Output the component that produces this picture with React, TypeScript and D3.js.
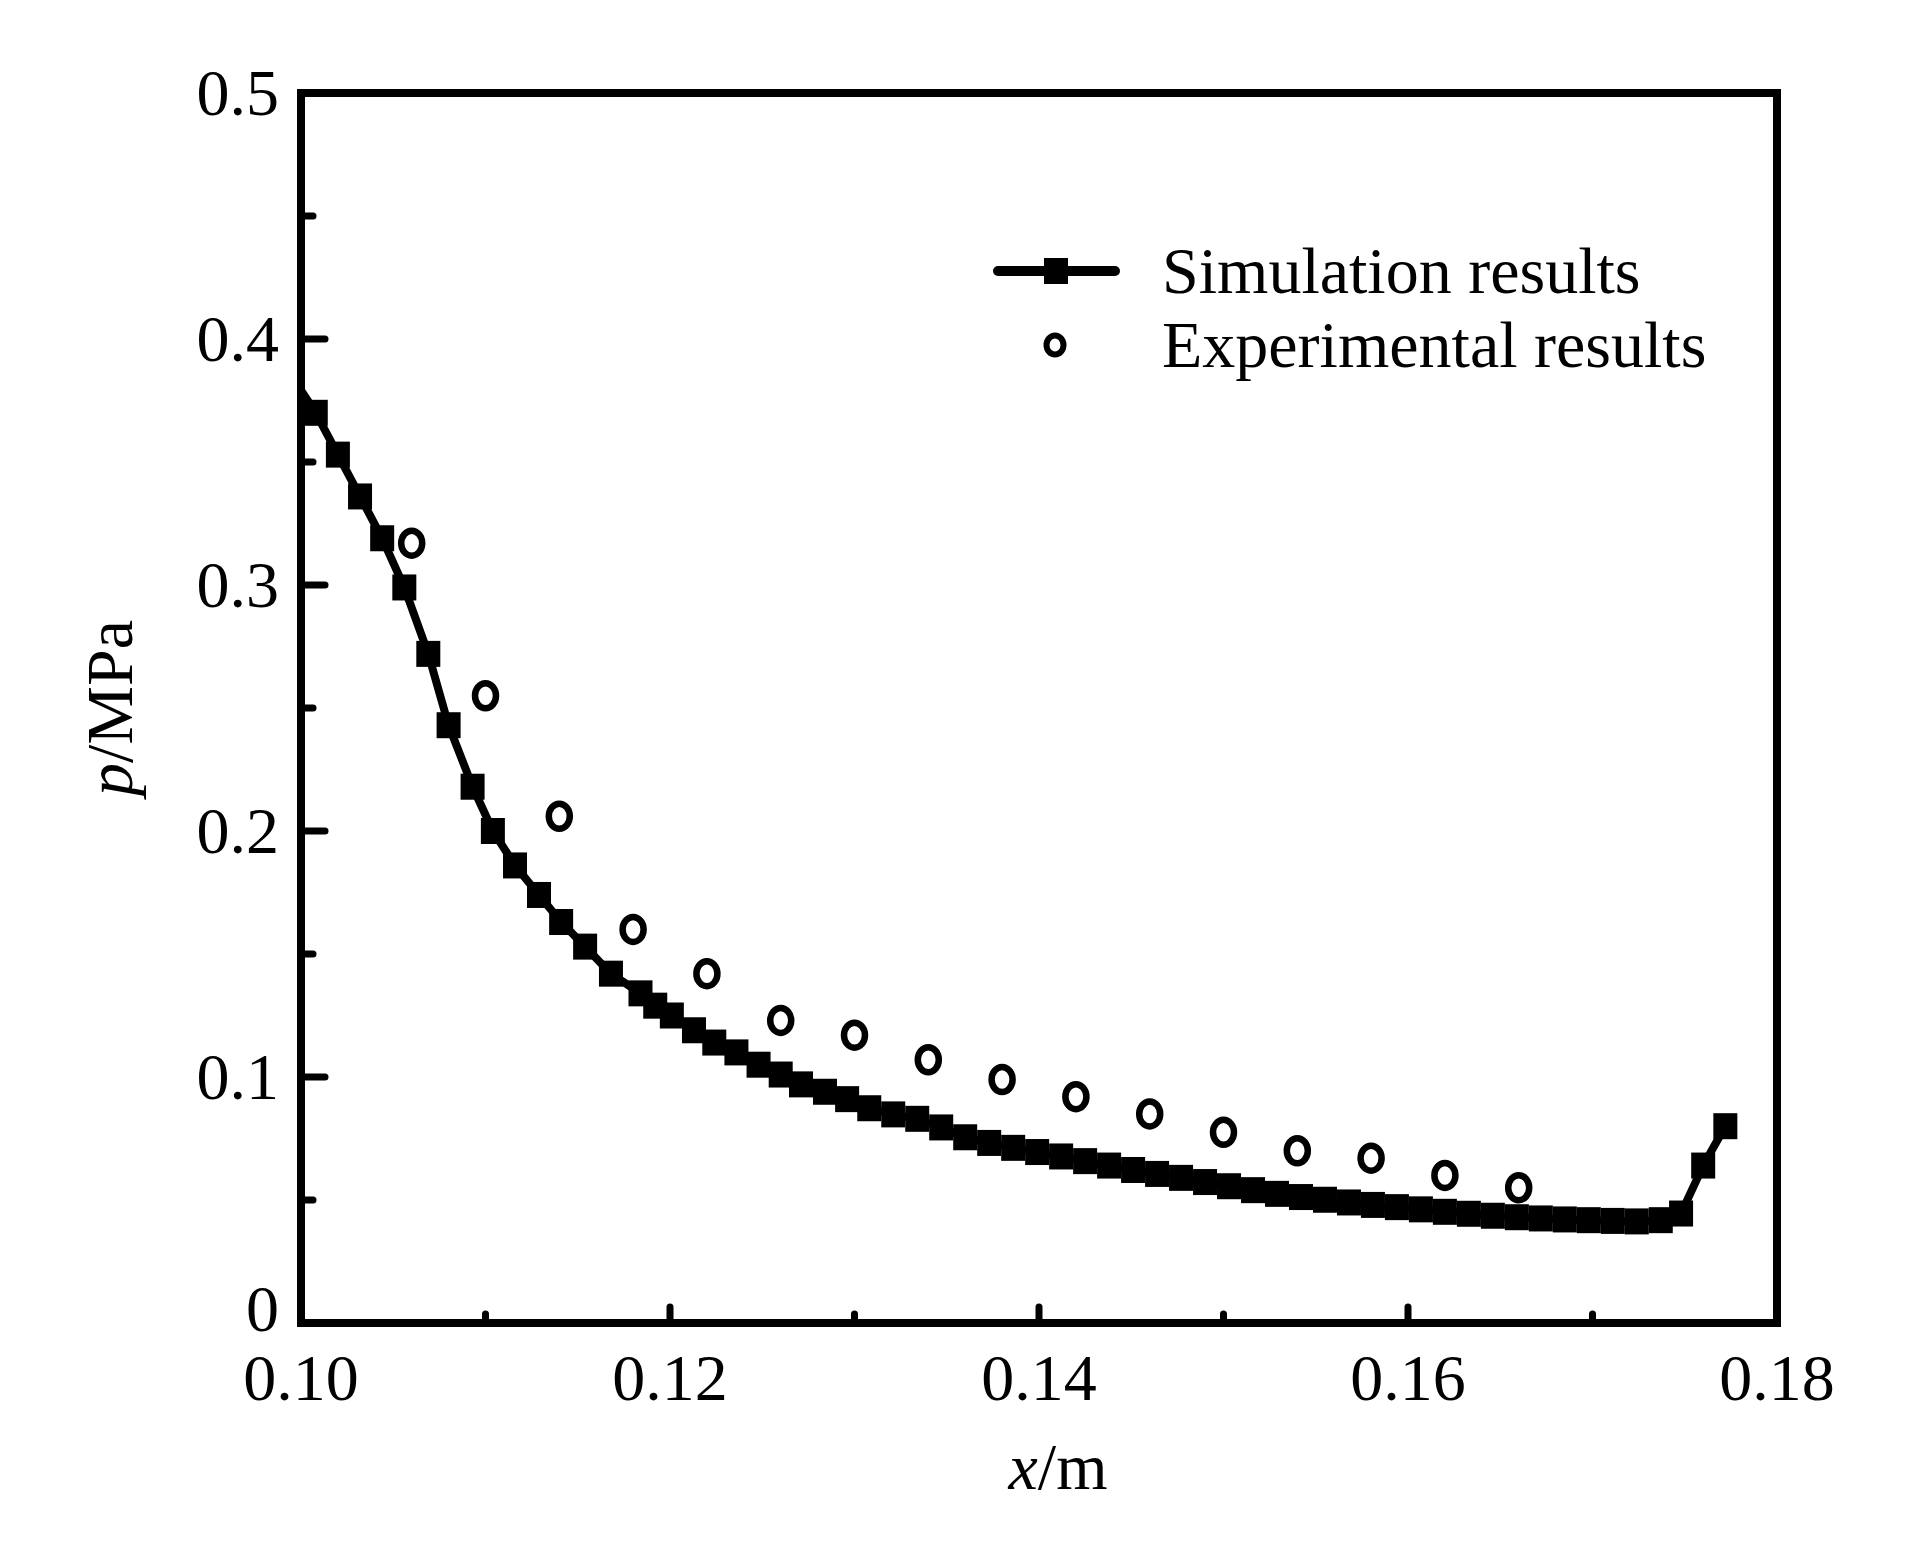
import * as d3 from "d3";
import { useRef, useEffect } from "react";

// simulation results (x in m, p in MPa)
const simX = [
  0.0994, 0.1008, 0.102, 0.1032, 0.1044, 0.1056, 0.1069, 0.108, 0.1093, 0.1104,
  0.1116, 0.1129, 0.1141, 0.1154, 0.1168, 0.1184, 0.1192, 0.1201, 0.1213, 0.1224,
  0.1236, 0.1248, 0.126, 0.1271, 0.1284, 0.1296, 0.1308, 0.1321, 0.1334, 0.1347,
  0.136, 0.1373, 0.1386, 0.1399, 0.1412, 0.1425, 0.1438, 0.1451, 0.1464, 0.1477,
  0.149, 0.1503, 0.1516, 0.1529, 0.1542, 0.1555, 0.1568, 0.1581, 0.1594, 0.1607,
  0.162, 0.1633, 0.1646, 0.1659, 0.1672, 0.1685, 0.1698, 0.1711, 0.1724, 0.1737,
  0.1748, 0.176, 0.1772,
];
const simP = [
  0.386, 0.37, 0.353, 0.336, 0.319, 0.299, 0.272, 0.243, 0.218, 0.2,
  0.186, 0.174, 0.163, 0.153, 0.142, 0.134, 0.129, 0.125, 0.119, 0.114,
  0.11, 0.105, 0.101, 0.097, 0.094, 0.091, 0.0873, 0.0848, 0.083, 0.0795,
  0.0755, 0.0732, 0.0712, 0.0695, 0.0677, 0.0658, 0.064, 0.0622, 0.0606, 0.059,
  0.0573, 0.0556, 0.054, 0.0525, 0.0512, 0.0501, 0.049, 0.048, 0.0471, 0.0462,
  0.0452, 0.0444, 0.0436, 0.043, 0.0425, 0.0421, 0.0418, 0.0415, 0.0413, 0.0418,
  0.0445, 0.064, 0.08,
];

// experimental results
const expX = [
  0.106, 0.11, 0.114, 0.118, 0.122, 0.126, 0.13, 0.134, 0.138, 0.142, 0.146,
  0.15, 0.154, 0.158, 0.162, 0.166,
];
const expP = [
  0.317, 0.255, 0.206, 0.16, 0.142, 0.123, 0.117, 0.107, 0.099, 0.092, 0.085,
  0.0775, 0.07, 0.067, 0.06, 0.055,
];

const xTicks = [0.1, 0.12, 0.14, 0.16, 0.18];
const xMinor = [0.11, 0.13, 0.15, 0.17];
const yTicks = [0, 0.1, 0.2, 0.3, 0.4, 0.5];
const yMinor = [0.05, 0.15, 0.25, 0.35, 0.45];
const seriesNames = ["Simulation results", "Experimental results"];

const W = 1923;
const H = 1559;
const FONT = "'Liberation Serif', 'Times New Roman', serif";

function draw(svgEl: SVGSVGElement | null) {
  if (!svgEl) return;
  const svg = d3.select(svgEl);
  svg.selectAll("*").remove();

  const left = 301;
  const right = 1777;
  const top = 93;
  const bottom = 1323;

  const x = d3.scaleLinear().domain([0.1, 0.18]).range([left, right]);
  const y = d3.scaleLinear().domain([0, 0.5]).range([bottom, top]);

  svg
    .append("defs")
    .append("clipPath")
    .attr("id", "plot-clip")
    .append("rect")
    .attr("x", left)
    .attr("y", top)
    .attr("width", right - left)
    .attr("height", bottom - top);

  // ticks (inside)
  const ticks = svg
    .append("g")
    .attr("stroke", "#000")
    .attr("stroke-width", 7)
    .attr("stroke-linecap", "round");

  ticks
    .selectAll("line.ym")
    .data(yTicks.slice(1, -1))
    .join("line")
    .attr("x1", left)
    .attr("x2", left + 24)
    .attr("y1", (d) => y(d))
    .attr("y2", (d) => y(d));
  ticks
    .selectAll("line.yn")
    .data(yMinor)
    .join("line")
    .attr("x1", left)
    .attr("x2", left + 12)
    .attr("y1", (d) => y(d))
    .attr("y2", (d) => y(d));
  ticks
    .selectAll("line.xm")
    .data(xTicks.slice(1, -1))
    .join("line")
    .attr("x1", (d) => x(d))
    .attr("x2", (d) => x(d))
    .attr("y1", bottom)
    .attr("y2", bottom - 16);
  ticks
    .selectAll("line.xn")
    .data(xMinor)
    .join("line")
    .attr("x1", (d) => x(d))
    .attr("x2", (d) => x(d))
    .attr("y1", bottom)
    .attr("y2", bottom - 9);

  // tick labels
  svg
    .append("g")
    .attr("font-family", FONT)
    .attr("font-size", 66)
    .attr("text-anchor", "middle")
    .selectAll("text")
    .data(xTicks)
    .join("text")
    .attr("x", (d) => x(d))
    .attr("y", 1400)
    .text((d) => d.toFixed(2));

  svg
    .append("g")
    .attr("font-family", FONT)
    .attr("font-size", 66)
    .attr("text-anchor", "end")
    .selectAll("text")
    .data(yTicks)
    .join("text")
    .attr("x", 279)
    .attr("y", (d) => y(d) - (d === 0 ? 14 : 0))
    .attr("dy", "0.33em")
    .text((d) => (d === 0 ? "0" : d.toFixed(1)));

  // axis titles
  const xt = svg
    .append("text")
    .attr("font-family", FONT)
    .attr("font-size", 66)
    .attr("text-anchor", "middle")
    .attr("x", 1058)
    .attr("y", 1489);
  xt.append("tspan").attr("font-style", "italic").text("x");
  xt.append("tspan").text("/m");

  const yt = svg
    .append("text")
    .attr("font-family", FONT)
    .attr("font-size", 66)
    .attr("text-anchor", "middle")
    .attr("transform", `translate(132,${(top + bottom) / 2}) rotate(-90)`);
  yt.append("tspan").attr("font-style", "italic").text("p");
  yt.append("tspan").text("/MPa");

  // data
  const plot = svg.append("g").attr("clip-path", "url(#plot-clip)");
  const sim = simX.map((v, i) => [v, simP[i]] as [number, number]);
  const exp = expX.map((v, i) => [v, expP[i]] as [number, number]);

  const line = d3
    .line<[number, number]>()
    .x((d) => x(d[0]))
    .y((d) => y(d[1]));

  plot
    .append("path")
    .datum(sim)
    .attr("d", line)
    .attr("fill", "none")
    .attr("stroke", "#000")
    .attr("stroke-width", 8)
    .attr("stroke-linejoin", "round");

  plot
    .selectAll("rect.sq")
    .data(sim)
    .join("rect")
    .attr("x", (d) => x(d[0]) - 12)
    .attr("y", (d) => y(d[1]) - 13)
    .attr("width", 24)
    .attr("height", 26)
    .attr("fill", "#000");

  plot
    .selectAll("ellipse.ex")
    .data(exp)
    .join("ellipse")
    .attr("cx", (d) => x(d[0]))
    .attr("cy", (d) => y(d[1]))
    .attr("rx", 10.5)
    .attr("ry", 12.5)
    .attr("fill", "none")
    .attr("stroke", "#000")
    .attr("stroke-width", 6.5);

  // frame
  svg
    .append("rect")
    .attr("x", left)
    .attr("y", top)
    .attr("width", right - left)
    .attr("height", bottom - top)
    .attr("fill", "none")
    .attr("stroke", "#000")
    .attr("stroke-width", 8);

  // legend
  const lg = svg.append("g");
  lg.append("line")
    .attr("x1", 998)
    .attr("x2", 1115)
    .attr("y1", 271)
    .attr("y2", 271)
    .attr("stroke", "#000")
    .attr("stroke-width", 10)
    .attr("stroke-linecap", "round");
  lg.append("rect")
    .attr("x", 1056 - 12)
    .attr("y", 271 - 13)
    .attr("width", 24)
    .attr("height", 26)
    .attr("fill", "#000");
  lg.append("ellipse")
    .attr("cx", 1055)
    .attr("cy", 345)
    .attr("rx", 8.5)
    .attr("ry", 9.5)
    .attr("fill", "none")
    .attr("stroke", "#000")
    .attr("stroke-width", 6);
  lg.selectAll("text")
    .data(seriesNames)
    .join("text")
    .attr("font-family", FONT)
    .attr("font-size", 66)
    .attr("x", 1162)
    .attr("y", (_, i) => 293 + i * 74)
    .text((d) => d);
}

const App = () => {
  const ref = useRef<SVGSVGElement | null>(null);

  useEffect(() => {
    draw(ref.current);
  }, []);

  return (
    <div style={{ position: "absolute", left: 0, top: 0 }}>
      <svg
        ref={ref}
        width={W}
        height={H}
        viewBox={`0 0 ${W} ${H}`}
        style={{ display: "block", background: "#fff" }}
      ></svg>
    </div>
  );
};

export default App;
